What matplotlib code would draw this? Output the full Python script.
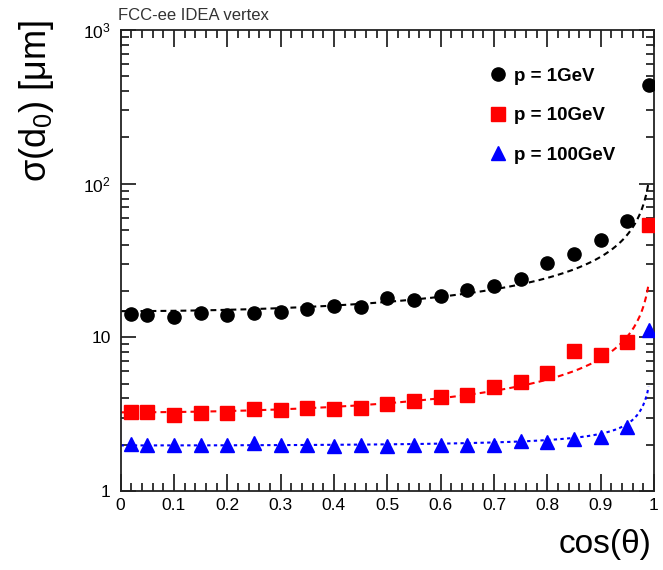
import numpy as np
import matplotlib
matplotlib.use("Agg")
import matplotlib.pyplot as plt
from matplotlib.ticker import FixedLocator, LogLocator, MultipleLocator, NullFormatter

plt.rcParams["font.family"] = ["Liberation Sans", "DejaVu Sans"]
plt.rcParams["mathtext.fontset"] = "custom"
plt.rcParams["mathtext.rm"] = "Liberation Sans"
plt.rcParams["mathtext.default"] = "regular"

# Impact-parameter resolution vs cos(theta)
cos_theta = [0.02, 0.05, 0.10, 0.15, 0.20, 0.25, 0.30, 0.35, 0.40, 0.45,
             0.50, 0.55, 0.60, 0.65, 0.70, 0.75, 0.80, 0.85, 0.90, 0.95, 0.99]

sigma_1gev = [14.2, 13.9, 13.5, 14.4, 14.0, 14.5, 14.7, 15.2, 15.9, 15.8,
              17.9, 17.5, 18.6, 20.2, 21.6, 23.8, 30.3, 34.7, 42.7, 57.5, 440.0]
sigma_10gev = [3.28, 3.25, 3.13, 3.23, 3.23, 3.42, 3.37, 3.45, 3.40, 3.48,
               3.68, 3.86, 4.10, 4.21, 4.76, 5.13, 5.86, 8.09, 7.70, 9.29, 53.9]
sigma_100gev = [2.02, 1.98, 1.98, 2.00, 1.98, 2.05, 2.00, 2.00, 1.96, 1.98,
                1.95, 2.00, 2.00, 1.98, 2.00, 2.10, 2.08, 2.18, 2.26, 2.60, 11.2]

# Fitted resolution model: sigma = a (+) b / sin(theta)
fit_a = {"1": 3.0, "10": 0.8, "100": 1.88}
fit_b = {"1": 14.5, "10": 3.15, "100": 0.62}

labels = ["p = 1GeV", "p = 10GeV", "p = 100GeV"]
y_tick_vals = [1, 10, 100, 1000]
y_tick_text = ["1", "10", "10$^{2}$", "10$^{3}$"]
x_tick_vals = [0, 0.1, 0.2, 0.3, 0.4, 0.5, 0.6, 0.7, 0.8, 0.9, 1.0]
x_tick_text = ["0", "0.1", "0.2", "0.3", "0.4", "0.5", "0.6", "0.7", "0.8", "0.9", "1"]

fig = plt.figure(figsize=(6.63, 5.70), dpi=100)
ax = fig.add_axes([120.5 / 663, 79 / 570, 533.5 / 663, 461 / 570])
ax.set_yscale("log")
ax.set_xlim(0, 1)
ax.set_ylim(1, 1000)

xc = np.linspace(0.0, 0.99, 400)


def fit_curve(key):
    a, b = fit_a[key], fit_b[key]
    return np.sqrt(a ** 2 + b ** 2 / (1.0 - xc ** 2))


ax.plot(xc, fit_curve("1"), color="black", lw=1.5, dashes=(2.8, 2.0), zorder=2)
ax.plot(xc, fit_curve("10"), color="red", lw=1.5, dashes=(2.8, 2.0), zorder=2)
ax.plot(xc, fit_curve("100"), color="blue", lw=1.5, dashes=(1.6, 1.6), zorder=2)

h1, = ax.plot(cos_theta, sigma_1gev, "o", color="black", ms=9.5, ls="none", zorder=3)
h2, = ax.plot(cos_theta, sigma_10gev, "s", color="red", ms=10, ls="none", zorder=3)
h3, = ax.plot(cos_theta, sigma_100gev, "^", color="blue", ms=9.5, ls="none", zorder=3)

leg = ax.legend([h1, h2, h3], labels, loc="upper left",
                bbox_to_anchor=(0.675, 0.935), frameon=False,
                prop={"weight": "bold", "size": 13.5},
                labelspacing=1.2, handletextpad=0.3, handlelength=1.1,
                borderaxespad=0)

# Axis ticks in ROOT style: inward, on all four sides
ax.yaxis.set_major_locator(FixedLocator(y_tick_vals))
ax.set_yticklabels(y_tick_text)
ax.yaxis.set_minor_locator(LogLocator(base=10, subs=np.arange(2, 10)))
ax.yaxis.set_minor_formatter(NullFormatter())
ax.xaxis.set_major_locator(FixedLocator(x_tick_vals))
ax.set_xticklabels(x_tick_text)
ax.xaxis.set_minor_locator(MultipleLocator(0.02))

ax.tick_params(which="both", direction="in", top=True, right=True,
               labelsize=12.5, colors="black", width=1.1)
ax.tick_params(axis="y", which="major", length=11, pad=7)
ax.tick_params(axis="y", which="minor", length=6)
ax.tick_params(axis="x", which="major", length=12, pad=5)
ax.tick_params(axis="x", which="minor", length=6)
for sp in ax.spines.values():
    sp.set_linewidth(1.3)
    sp.set_color("#222222")

ax.set_ylabel("σ(d$_{0}$) [μm]", fontsize=26, loc="top")
ax.yaxis.set_label_coords(-0.12, 1.022)
ax.set_xlabel("cos(θ)", fontsize=24, loc="right")
ax.xaxis.set_label_coords(0.996, -0.083)
ax.xaxis.label.set_verticalalignment("top")

fig.text(118 / 663, 1 - 15 / 570, "FCC-ee IDEA vertex", fontsize=12,
         color="#333333", ha="left", va="center")

fig.savefig("out.png", dpi=100)
